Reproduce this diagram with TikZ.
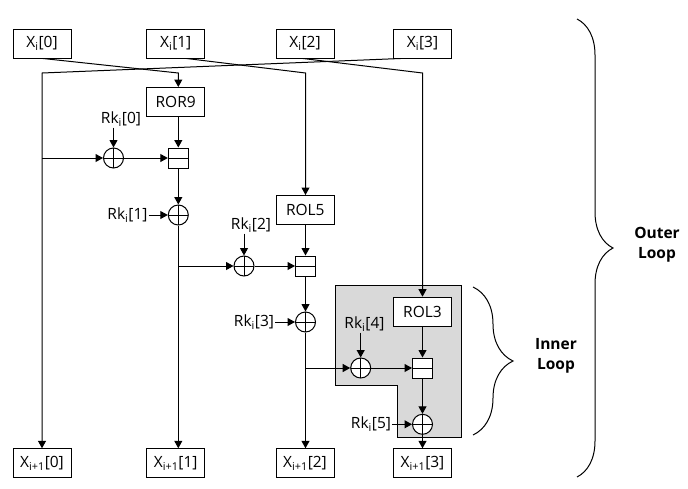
\documentclass[tikz,border=0pt]{standalone}
\usepackage{fontspec}
\setmainfont{Open Sans}
\usepackage{xcolor}
\usepackage{tikz}
\usetikzlibrary{arrows.meta, positioning, calc, backgrounds, decorations.pathreplacing}

\definecolor{innergray}{HTML}{D9D9D9}

\begin{document}
\begin{tikzpicture}[
    x=1pt, y=-1pt,
    font=\fontsize{15.5}{20}\selectfont,
    >={Triangle[length=7.5pt,width=8pt]},
    word/.style={
        rectangle,
        draw,
        line width=1pt,
        fill=white,
        minimum width=58pt,
        minimum height=29pt,
        inner sep=0pt
    },
    xorop/.style={
        circle,
        draw,
        line width=1pt,
        fill=white,
        minimum size=20pt,
        inner sep=0pt,
        path picture={\draw[line width=1pt]
            (path picture bounding box.north) -- (path picture bounding box.south)
            (path picture bounding box.west) -- (path picture bounding box.east);}
    },
    addop/.style={
        rectangle,
        draw,
        line width=1pt,
        fill=white,
        minimum size=20pt,
        inner sep=0pt,
        path picture={\draw[line width=1pt]
            (path picture bounding box.west) -- (path picture bounding box.east);}
    },
    keylabel/.style={
        inner sep=1pt
    },
    flow/.style={
        ->,
        line width=1pt,
        draw=black
    },
    loopbrace/.style={
        decorate,
        decoration={brace, amplitude=#1},
        line width=1pt
    },
    looplabel/.style={
        font=\fontsize{15.5}{20}\selectfont\bfseries,
        align=center
    }
]

\useasboundingbox (0,0) rectangle (688,488);

% --- Input and output words ------------------------------------------------

\node[word] (xi0) at (42,43.5)    {X\textsubscript{i}[0]};
\node[word] (xi1) at (175.7,43.5) {X\textsubscript{i}[1]};
\node[word] (xi2) at (305,43.5)   {X\textsubscript{i}[2]};
\node[word] (xi3) at (422.5,43.5) {X\textsubscript{i}[3]};

\node[word] (out0) at (42,463.3)    {X\textsubscript{i+1}[0]};
\node[word] (out1) at (175.7,463.3) {X\textsubscript{i+1}[1]};
\node[word] (out2) at (305,463.3)   {X\textsubscript{i+1}[2]};
\node[word] (out3) at (422.5,463.3) {X\textsubscript{i+1}[3]};

% --- Inner loop region -----------------------------------------------------

\begin{scope}[on background layer]
    \draw[line width=0.8pt, fill=innergray]
        (335,285) -- (461.5,285) -- (461.5,437) -- (397,437)
        -- (397,385) -- (335,385) -- cycle;
\end{scope}

% --- Rotations and operations ----------------------------------------------

\node[word] (ror9) at (175.7,102)   {ROR9};
\node[word] (rol5) at (305.3,210)   {ROL5};
\node[word] (rol3) at (422.5,311.7) {ROL3};

\node[xorop] (xor0) at (113.5,158) {};
\node[addop] (add0) at (178.3,158) {};
\node[xorop] (xor1) at (178.3,215) {};

\node[xorop] (xor2) at (244,266)   {};
\node[addop] (add1) at (305.5,266) {};
\node[xorop] (xor3) at (305.5,322) {};

\node[xorop] (xor4) at (360.7,368) {};
\node[addop] (add2) at (422.5,368) {};
\node[xorop] (xor5) at (422.5,424.3) {};

% --- Round keys ------------------------------------------------------------

\node[keylabel] (rk0) at (121,119)   {Rk\textsubscript{i}[0]};
\node[keylabel] (rk1) at (127.5,215) {Rk\textsubscript{i}[1]};
\node[keylabel] (rk2) at (251,225)   {Rk\textsubscript{i}[2]};
\node[keylabel] (rk3) at (254,322)   {Rk\textsubscript{i}[3]};
\node[keylabel] (rk4) at (364.5,324) {Rk\textsubscript{i}[4]};
\node[keylabel] (rk5) at (371,424.3) {Rk\textsubscript{i}[5]};

% --- Word permutation --------------------------------------------------------

\coordinate (bend) at (0,73);

\draw[flow] ($(xi0.south)+(1,0)$)   -- (add0 |- bend) -- (add0 |- ror9.north);
\draw[flow] ($(xi1.south)+(11,0)$)  -- (add1 |- bend) -- (add1 |- rol5.north);
\draw[flow] ($(xi2.south)+(-2,0)$)  -- (add2 |- bend) -- (add2 |- rol3.north);
\draw[flow] ($(xi3.south)+(-22,0)$) -- (out0 |- bend) -- (out0.north);

% --- Arrows ------------------------------------------------------------------

\draw[flow] (out0 |- xor0) -- (xor0);
\draw[flow] (rk0.south -| xor0) -- (xor0);
\draw[flow] (xor0) -- (add0);
\draw[flow] (add0 |- ror9.south) -- (add0);
\draw[flow] (add0) -- (xor1);
\draw[flow] (rk1) -- (xor1);
\draw[flow] (xor1) -- (xor1 |- out1.north);

\draw[flow] (xor1 |- xor2) -- (xor2);
\draw[flow] (rk2.south -| xor2) -- (xor2);
\draw[flow] (xor2) -- (add1);
\draw[flow] (add1 |- rol5.south) -- (add1);
\draw[flow] (add1) -- (xor3);
\draw[flow] (rk3) -- (xor3);
\draw[flow] (xor3) -- (xor3 |- out2.north);

\draw[flow] (xor3 |- xor4) -- (xor4);
\draw[flow] (rk4.south -| xor4) -- (xor4);
\draw[flow] (xor4) -- (add2);
\draw[flow] (add2 |- rol3.south) -- (add2);
\draw[flow] (add2) -- (xor5);
\draw[flow] (rk5) -- (xor5);
\draw[flow] (xor5) -- (xor5 |- out3.north);

% --- Loop braces -------------------------------------------------------------

\draw[loopbrace=36] (577,19) -- (577,477);
\node[looplabel] (outer) at (657,245) {Outer\\Loop};

\draw[loopbrace=40] (473,287) -- (473,435);
\node[looplabel] (inner) at (556,356) {Inner\\Loop};

\end{tikzpicture}
\end{document}
